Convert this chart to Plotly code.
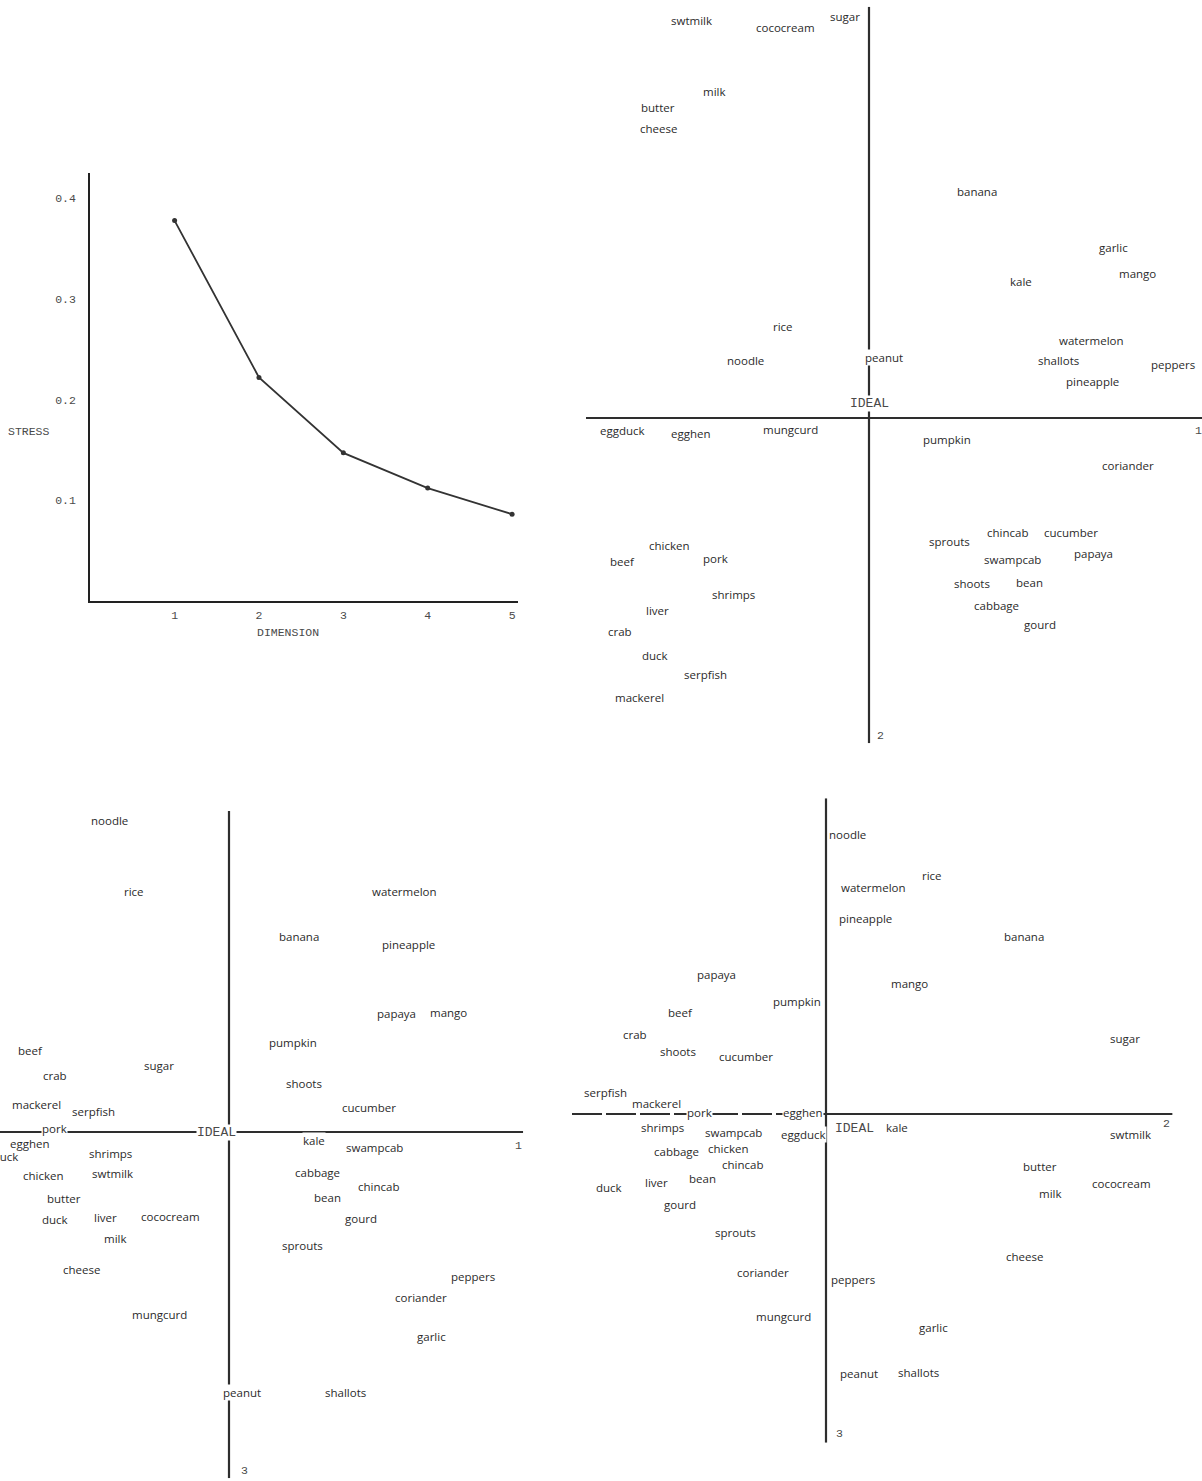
import plotly.graph_objects as go

W, H = 1202, 1481

# ---- Stress against number of dimensions ----
dimensions = [1, 2, 3, 4, 5]
stress = [0.378, 0.222, 0.147, 0.112, 0.086]
stress_ticks = [0.1, 0.2, 0.3, 0.4]
stress_tick_text = ["0.1", "0.2", "0.3", "0.4"]

# ---- Food items (same order for every configuration) ----
foods = ["swtmilk", "cococream", "sugar", "milk", "butter", "cheese", "banana",
         "garlic", "mango", "kale", "rice", "noodle", "peanut", "watermelon",
         "shallots", "peppers", "pineapple", "eggduck", "egghen", "mungcurd",
         "pumpkin", "coriander", "chincab", "cucumber", "sprouts", "swampcab",
         "papaya", "shoots", "bean", "cabbage", "gourd", "chicken", "beef",
         "pork", "shrimps", "liver", "crab", "duck", "serpfish", "mackerel"]

# Two-dimensional solution: dimension 1 vs dimension 2
cfg12_dim1 = [-1.78, -0.84, -0.24, -1.55, -2.11, -2.11, 1.08, 2.44, 2.68, 1.52,
              -0.86, -1.24, 0.15, 2.22, 1.89, 3.04, 2.23, -2.47, -1.78, -0.79,
              0.78, 2.59, 1.38, 2.02, 0.80, 1.43, 2.24, 1.03, 1.60, 1.27,
              1.71, -2.00, -2.47, -1.54, -1.36, -2.12, -2.49, -2.14, -1.64, -2.30]
cfg12_dim2 = [-3.97, -3.90, -4.01, -3.26, -3.10, -2.89, -2.27, -1.71, -1.45, -1.37,
              -0.92, -0.58, -0.61, -0.78, -0.58, -0.54, -0.37, 0.12, 0.15, 0.11,
              0.21, 0.47, 1.15, 1.15, 1.24, 1.42, 1.36, 1.66, 1.65, 1.88,
              2.07, 1.28, 1.44, 1.41, 1.77, 1.93, 2.14, 2.38, 2.57, 2.80]

# Three-dimensional solution: dimension 1 vs dimension 3
cfg13_dim1 = [-1.17, -0.59, -0.70, -1.14, -1.65, -1.48, 0.70, 2.02, 2.19, 0.85,
              -0.95, -1.20, 0.13, 1.75, 1.16, 2.44, 1.79, -2.33, -1.99, -0.70,
              0.64, 1.92, 1.49, 1.40, 0.73, 1.45, 1.67, 0.75, 0.98, 0.88,
              1.32, -1.86, -1.99, -1.75, -1.19, -1.24, -1.74, -1.74, -1.36, -1.93]
cfg13_dim3 = [0.41, 0.84, -0.67, 1.06, 0.66, 1.37, -1.95, 2.04, -1.19, 0.08,
              -2.40, -3.11, 2.60, -2.40, 2.60, 1.44, -1.87, 0.26, 0.11, 1.82,
              -0.90, 1.65, 0.54, -0.25, 1.13, 0.15, -1.18, -0.49, 0.65, 0.40,
              0.86, 0.43, -0.82, -0.04, 0.21, 0.85, -0.57, 0.87, -0.21, -0.28]

# Three-dimensional solution: dimension 2 vs dimension 3
cfg23_dim2 = [3.04, 2.95, 2.99, 2.24, 2.14, 1.98, 1.98, 1.07, 0.83, 0.71,
              1.06, 0.21, 0.33, 0.47, 0.92, 0.27, 0.39, -0.23, -0.23, -0.43,
              -0.29, -0.63, -0.84, -0.80, -0.91, -0.93, -1.10, -1.48, -1.24, -1.50,
              -1.46, -0.98, -1.46, -1.27, -1.64, -1.70, -1.91, -2.17, -2.21, -1.70]
cfg23_dim3 = [0.20, 0.69, -0.76, 0.79, 0.52, 1.42, -1.78, 2.13, -1.31, 0.13,
              -2.39, -2.80, 2.59, -2.27, 2.58, 1.65, -1.96, 0.20, -0.02, 2.02,
              -1.13, 1.58, 0.50, -0.58, 1.18, 0.18, -1.40, -0.63, 0.64, 0.37,
              0.90, 0.34, -1.02, -0.02, 0.13, 0.68, -0.80, 0.73, -0.22, -0.11]

MONO = "Liberation Mono, Courier New, monospace"
SANS = "Open Sans, Liberation Sans, sans-serif"
LABEL_FONT = dict(family=SANS, size=11.5, color="#2b2b2b")
TYPE_FONT = dict(family=MONO, size=11.5, color="#4a4a4a")
AXIS_COLOR = "#2e2e2e"


def xdom(left_px, right_px):
    return [left_px / W, right_px / W]


def ydom(top_px, bottom_px):
    return [1 - bottom_px / H, 1 - top_px / H]


fig = go.Figure()

# Stress curve
fig.add_trace(go.Scatter(
    x=dimensions, y=stress, mode="lines+markers", xaxis="x", yaxis="y",
    line=dict(color="#333333", width=1.8),
    marker=dict(color="#333333", size=5), hoverinfo="x+y", showlegend=False))

# Configuration panels: axis id, values, ranges, domains, dash style of the
# negative half of the horizontal axis
panels = [
    ("2", cfg12_dim1, cfg12_dim2, (-2.83, 3.33), (-4.113, 3.253),
     xdom(586, 1202), ydom(6.7, 743.3), "solid"),
    ("3", cfg13_dim1, cfg13_dim3, (-2.29, 2.942), (-3.21, 3.463),
     xdom(0, 523.2), ydom(811, 1478.3), "solid"),
    ("4", cfg23_dim2, cfg23_dim3, (-2.54, 3.466), (-3.157, 3.287),
     xdom(572, 1172.6), ydom(798.3, 1442.7), "30px,4px"),
]

layout = dict(
    width=W, height=H, margin=dict(l=0, r=0, t=0, b=0),
    paper_bgcolor="white", plot_bgcolor="rgba(0,0,0,0)", showlegend=False,
    xaxis=dict(domain=xdom(90.2, 518), range=[0, 5.07], anchor="y",
               showline=True, linecolor="#222222", linewidth=2,
               showgrid=False, zeroline=False, ticks="",
               tickvals=dimensions, ticktext=[str(d) for d in dimensions],
               tickfont=TYPE_FONT, ticklabelstandoff=2, fixedrange=True),
    yaxis=dict(domain=ydom(173.3, 600.7), range=[0, 0.425], anchor="x",
               showline=True, linecolor="#222222", linewidth=2,
               showgrid=False, zeroline=False, ticks="",
               tickvals=stress_ticks, ticktext=stress_tick_text,
               tickfont=TYPE_FONT, ticklabelstandoff=10, fixedrange=True),
)

shapes = []
annotations = [
    dict(x=29 / W, y=1 - 431.7 / H, xref="paper", yref="paper", text="STRESS",
         xanchor="center", yanchor="middle", showarrow=False, font=TYPE_FONT),
    dict(x=287.5 / W, y=1 - 632.7 / H, xref="paper", yref="paper", text="DIMENSION",
         xanchor="center", yanchor="middle", showarrow=False, font=TYPE_FONT),
]

for ax, xs, ys, (x0, x1), (y0, y1), xd, yd, left_dash in panels:
    layout["xaxis" + ax] = dict(domain=xd, range=[x0, x1], anchor="y" + ax,
                                visible=False, fixedrange=True)
    layout["yaxis" + ax] = dict(domain=yd, range=[y1, y0], anchor="x" + ax,
                                visible=False, fixedrange=True)
    # axes through the ideal point
    shapes.append(dict(type="line", xref="x" + ax, yref="y" + ax, x0=x0, x1=0,
                       y0=0, y1=0, layer="below",
                       line=dict(color=AXIS_COLOR, width=1.8, dash=left_dash)))
    shapes.append(dict(type="line", xref="x" + ax, yref="y" + ax, x0=0, x1=x1,
                       y0=0, y1=0, layer="below",
                       line=dict(color=AXIS_COLOR, width=1.8)))
    shapes.append(dict(type="line", xref="x" + ax, yref="y" + ax, x0=0, x1=0,
                       y0=y0, y1=y1, layer="below",
                       line=dict(color=AXIS_COLOR, width=2.2)))

    inside = [(n, xv, yv) for n, xv, yv in zip(foods, xs, ys)
              if x0 <= xv <= x1 and y0 <= yv <= y1]
    outside = [(n, xv, yv) for n, xv, yv in zip(foods, xs, ys)
               if not (x0 <= xv <= x1 and y0 <= yv <= y1)]
    # labels inside the frame sit on a white box so that axis lines break under them
    for name, xv, yv in inside:
        annotations.append(dict(x=xv, y=yv, xref="x" + ax, yref="y" + ax, text=name,
                                showarrow=False, font=LABEL_FONT,
                                bgcolor="white", borderpad=0))
    # labels running off the page edge (clipped at the subplot border)
    if outside:
        fig.add_trace(go.Scatter(
            x=[o[1] for o in outside], y=[o[2] for o in outside],
            text=[o[0] for o in outside], mode="text", cliponaxis=True,
            textfont=LABEL_FONT, xaxis="x" + ax, yaxis="y" + ax,
            hoverinfo="text", showlegend=False))
    fig.add_trace(go.Scatter(x=xs, y=ys, text=foods, mode="markers",
                             xaxis="x" + ax, yaxis="y" + ax, showlegend=False,
                             marker=dict(size=1, opacity=0), hoverinfo="text"))

# Ideal point and dimension numbers at the axis ends
axis_marks = [
    ("2", 0, 0, "IDEAL", 0, 15, 13),
    ("2", 3.33, 0, "1", -4, -12, 11.5),
    ("2", 0, 3.253, "2", 11, 8, 11.5),
    ("3", 0, 0, "IDEAL", -13, 0, 13),
    ("3", 2.942, 0, "1", -5, -13, 11.5),
    ("3", 0, 3.463, "3", 15, 8, 11.5),
    ("4", 0, 0, "IDEAL", 28, -14, 13),
    ("4", 3.466, 0, "2", -6, -9, 11.5),
    ("4", 0, 3.287, "3", 13, 9, 11.5),
]
for ax, xv, yv, txt, dx, dy, fs in axis_marks:
    annotations.append(dict(x=xv, y=yv, xref="x" + ax, yref="y" + ax, text=txt,
                            showarrow=False, xshift=dx, yshift=dy,
                            font=dict(family=MONO, size=fs, color="#4a4a4a"),
                            bgcolor="white" if txt == "IDEAL" else None, borderpad=0))

layout["shapes"] = shapes
layout["annotations"] = annotations
fig.update_layout(**layout)

fig.write_html("out.html")
